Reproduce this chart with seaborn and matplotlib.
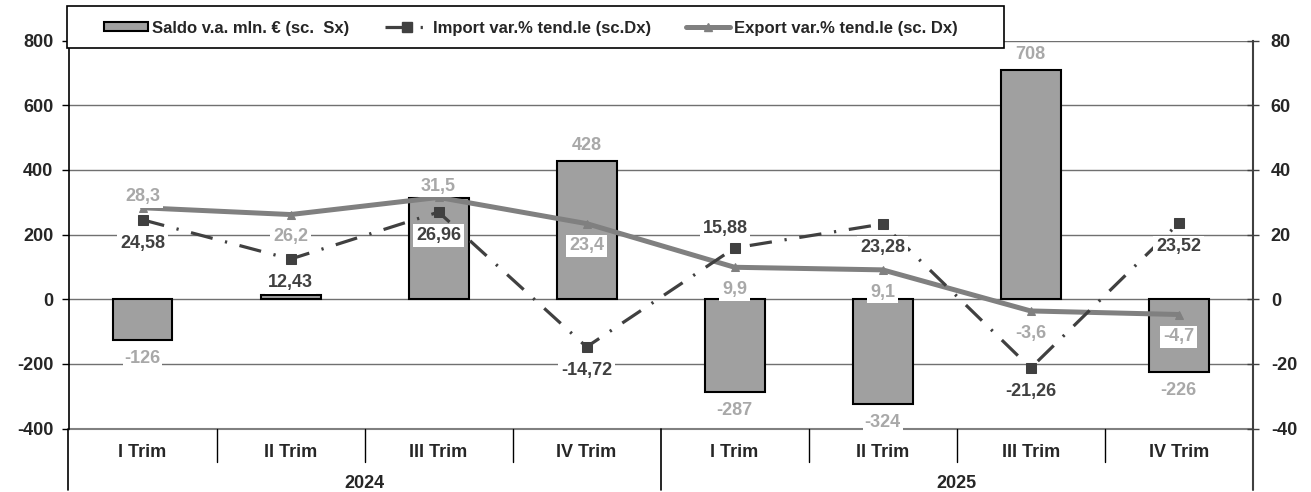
import matplotlib
matplotlib.use("Agg")
import matplotlib.pyplot as plt
import matplotlib.transforms as mtransforms
from matplotlib.patches import Rectangle
from matplotlib.lines import Line2D
import seaborn as sns
import pandas as pd

# ---------------- data ----------------
quarters = ["I Trim", "II Trim", "III Trim", "IV Trim", "I Trim", "II Trim", "III Trim", "IV Trim"]
years = ["2024", "2025"]
saldo = [-126, 12, 312, 428, -287, -324, 708, -226]
import_var = [24.58, 12.43, 26.96, -14.72, 15.88, 23.28, -21.26, 23.52]
export_var = [28.3, 26.2, 31.5, 23.4, 9.9, 9.1, -3.6, -4.7]
import_lbl_side = ["below", "below", "below", "below", "above", "below", "below", "below"]
export_lbl_side = ["above", "below", "above", "below", "below", "below", "below", "below"]
legend_labels = ["Saldo v.a. mln. € (sc.  Sx)", "Import var.% tend.le (sc.Dx)", "Export var.% tend.le (sc. Dx)"]

def fmt(v):
    return ("%g" % v).replace(".", ",")

df = pd.DataFrame({"pos": list(range(len(quarters))), "saldo": saldo,
                   "imp": import_var, "exp": export_var})

# ---------------- style ----------------
sns.set_style("white")
plt.rcParams["font.family"] = ["Liberation Sans", "DejaVu Sans"]
plt.rcParams["font.weight"] = "bold"
plt.rcParams["axes.unicode_minus"] = False

BAR = "#A0A0A0"
IMP = "#404040"
EXP = "#808080"
LBL_LIGHT = "#A8A8A8"
IMP_LS = (0, (7, 4, 0.7, 4))

W, H = 1311, 492
fig = plt.figure(figsize=(W / 100, H / 100), dpi=100)
L, R, T, B = 68.5, 1252.7, 40.5, 428.7
ax = fig.add_axes([L / W, 1 - B / H, (R - L) / W, (B - T) / H])

# gridlines
ax.set_ylim(-400, 800)
ax.set_yticks(range(-400, 801, 200))
ax.yaxis.grid(True, color="#707070", lw=1.0, zorder=0)
ax.set_axisbelow(True)

# bars
sns.barplot(data=df, x="pos", y="saldo", ax=ax, color=BAR, saturation=1,
            width=0.405, edgecolor="black", linewidth=1.5, zorder=2)
ax.set_xlim(-0.5, 7.5)

for i, v in enumerate(saldo):
    off = 11 if v >= 0 else -13
    ax.annotate(str(v), (i, v), xytext=(0, off), textcoords="offset points",
                ha="center", va="center", fontsize=13, fontweight="bold",
                color=LBL_LIGHT, zorder=3,
                bbox=dict(boxstyle="square,pad=0.1", fc="white", ec="none"))

# twin axis for lines
ax2 = ax.twinx()
ax2.set_ylim(-40, 80)
ax2.set_yticks(range(-40, 81, 20))

sns.lineplot(data=df, x="pos", y="exp", ax=ax2, color=EXP, lw=3.6,
             marker="^", markersize=6, markeredgecolor=EXP, zorder=3)
sns.lineplot(data=df, x="pos", y="imp", ax=ax2, color=IMP, lw=2.3,
             linestyle=IMP_LS, marker="s", markersize=7,
             markeredgecolor=IMP, zorder=4)
ax2.set_xlim(-0.5, 7.5)

for i, v in enumerate(export_var):
    off = 8 if export_lbl_side[i] == "above" else -16
    ax2.annotate(fmt(v), (i, v), xytext=(0, off), textcoords="offset points",
                 ha="center", va="center", fontsize=13, fontweight="bold",
                 color=LBL_LIGHT, zorder=6,
                 bbox=dict(boxstyle="square,pad=0.15", fc="white", ec="none"))
for i, v in enumerate(import_var):
    off = 14 if import_lbl_side[i] == "above" else -17
    dx = -7 if import_lbl_side[i] == "above" else 0
    ax2.annotate(fmt(v), (i, v), xytext=(dx, off), textcoords="offset points",
                 ha="center", va="center", fontsize=13, fontweight="bold",
                 color=IMP, zorder=7,
                 bbox=dict(boxstyle="square,pad=0.15", fc="white", ec="none"))

# axes cosmetics
for a in (ax, ax2):
    a.set_xlabel("")
    a.set_ylabel("")
    a.spines["top"].set_visible(False)
    a.spines["bottom"].set_visible(False)
ax.spines["right"].set_visible(False)
ax2.spines["left"].set_visible(False)
ax.spines["left"].set_color("black")
ax.spines["left"].set_linewidth(1.2)
ax2.spines["right"].set_color("#404040")
ax2.spines["right"].set_linewidth(1.5)

ax.tick_params(axis="y", direction="out", length=5, width=1, color="black",
               labelsize=13, pad=6, left=True)
ax2.tick_params(axis="y", direction="inout", length=8, width=1, color="#404040",
                labelsize=13, pad=9, right=True)
for lab in ax.get_yticklabels() + ax2.get_yticklabels():
    lab.set_fontweight("bold")

# category axis (two levels)
ax.set_xticks(range(len(quarters)))
ax.set_xticklabels(quarters, fontsize=13, fontweight="bold")
ax.tick_params(axis="x", length=0, pad=11)
ax2.tick_params(axis="x", length=0, labelbottom=False)

ax.axhline(-400, color="#808080", lw=1.5, zorder=1, clip_on=False)

trans = mtransforms.blended_transform_factory(ax.transData, ax.transAxes)
ah = B - T
short = -(461.7 - B) / ah
long_ = -(490 - B) / ah
for x in [0.5, 1.5, 2.5, 4.5, 5.5, 6.5]:
    ax.add_line(Line2D([x, x], [0, short], transform=trans, color="black",
                       lw=1, clip_on=False))
for x in [-0.5, 3.5]:
    ax.add_line(Line2D([x, x], [0, long_], transform=trans, color="black",
                       lw=1.2, clip_on=False))
ax.add_line(Line2D([7.5, 7.5], [0, long_], transform=trans, color="#404040",
                   lw=1.5, clip_on=False))
year_y = -(483 - B) / ah
for k, yr in enumerate(years):
    ax.text(1.5 + 4 * k, year_y, yr, transform=trans, ha="center", va="center",
            fontsize=13, fontweight="bold")

# legend: frame drawn separately, entries placed inside
frame = Rectangle((67 / W, 1 - 48 / H), (1004 - 67) / W, 42 / H,
                  transform=fig.transFigure, fc="white", ec="black", lw=1.2,
                  zorder=9)
fig.patches.append(frame)
handles = [
    Rectangle((0, 0), 1, 1, fc=BAR, ec="black", lw=1.5),
    Line2D([], [], color=IMP, lw=2.3, linestyle=IMP_LS, marker="s", markersize=7),
    Line2D([], [], color=EXP, lw=3.6, marker="^", markersize=6),
]
leg = fig.legend(handles, legend_labels, ncol=3, loc="center left",
                 bbox_to_anchor=(104 / W, 1 - 28 / H), frameon=False,
                 prop=dict(size=12, weight="bold"), numpoints=1,
                 handlelength=2.65, handleheight=0.5, handletextpad=0.25,
                 columnspacing=2.1, borderaxespad=0, borderpad=0)
leg.set_zorder(10)

fig.savefig("out.png", dpi=100)
